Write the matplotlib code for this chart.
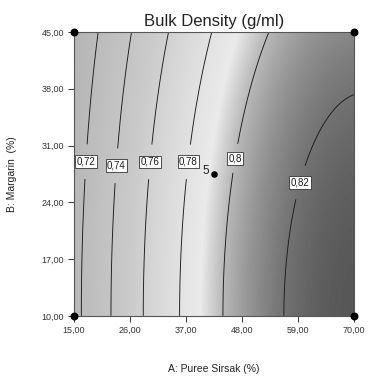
import numpy as np
import matplotlib
matplotlib.use("Agg")
import matplotlib.pyplot as plt
from matplotlib.colors import LinearSegmentedColormap

plt.rcParams['font.family'] = ['Liberation Sans', 'DejaVu Sans']

levels = [0.72, 0.74, 0.76, 0.78, 0.80, 0.82]

# where each contour crosses B = 10, 24, 31, 45 (A values)
rows_B = [10, 24, 31, 45]
cross_072 = [16.6, 17.0, 17.5, 19.9]
cross_074 = [22.3, 22.7, 23.4, 26.2]
cross_076 = [28.6, 29.3, 30.5, 33.5]
cross_078 = [35.5, 36.6, 38.4, 42.1]
cross_080 = [43.9, 46.2, 48.2, 52.3]
# 0.82 leaves through the right edge, so it gets its own points
pts_082_A = [55.1, 56.1, 58.0, 60.4, 61.4, 64.7, 70.0]
pts_082_B = [10.0, 17.0, 24.0, 27.1, 29.2, 33.3, 37.5]

# where the contour labels sit (A, B)
label_pos = [(17.6, 29.0), (23.3, 28.5), (29.7, 29.0), (37.3, 29.0),
             (46.9, 29.4), (59.2, 26.5)]

x_ticks = [15, 26, 37, 48, 59, 70]
y_ticks = [10, 17, 24, 31, 38, 45]

# design points
design_A = [15, 70, 15, 70]
design_B = [10, 10, 45, 45]
center_A, center_B, center_n = 42.5, 27.5, 5

# grey shading by response value
shade_vals = [0.705, 0.75, 0.79, 0.80, 0.81, 0.82, 0.835]
shade_grey = [0.71, 0.79, 0.92, 0.72, 0.58, 0.45, 0.28]


def basis(a, b):
    a = (np.asarray(a, float) - 42.5) / 27.5
    u = ((np.asarray(b, float) - 10) / 35) ** 2
    return np.stack([np.ones_like(a), a, a ** 2, a ** 3, u, u * a, u * a ** 2], axis=-1)


# fit a response surface through the contour crossings
pa, pb, pz = [], [], []
for lev, cr in zip(levels[:5], [cross_072, cross_074, cross_076, cross_078, cross_080]):
    pa += cr
    pb += rows_B
    pz += [lev] * len(cr)
pa += pts_082_A
pb += pts_082_B
pz += [0.82] * len(pts_082_A)
coef, *_ = np.linalg.lstsq(basis(pa, pb), np.array(pz), rcond=None)

A = np.linspace(15, 70, 300)
B = np.linspace(10, 45, 300)
AA, BB = np.meshgrid(A, B)
Z = basis(AA, BB) @ coef

lo, hi = shade_vals[0], shade_vals[-1]
cmap = LinearSegmentedColormap.from_list(
    'grey', [((v - lo) / (hi - lo), (g, g, g)) for v, g in zip(shade_vals, shade_grey)])

fig = plt.figure(figsize=(3.81, 3.76), dpi=100)
ax = fig.add_axes([0.194, 0.160, 0.735, 0.755])

ax.imshow(Z, extent=(15, 70, 10, 45), origin='lower', aspect='auto',
          cmap=cmap, vmin=lo, vmax=hi, interpolation='bilinear')
cs = ax.contour(AA, BB, Z, levels=levels, colors='#1a1a1a', linewidths=0.65)


def fmt(v):
    s = ('%.2f' % v).rstrip('0')
    return s.replace('.', ',')


labels = ax.clabel(cs, fmt=fmt, fontsize=7, manual=label_pos, inline=True, inline_spacing=8)
for t in labels:
    t.set_bbox(dict(facecolor='white', edgecolor='#333333', pad=1.0, linewidth=0.6))
    t.set_rotation(0)

ax.scatter(design_A, design_B, s=22, color='black', zorder=5, clip_on=False)
ax.scatter([center_A], [center_B], s=14, color='black', zorder=5)
ax.text(center_A - 1.0, center_B + 0.4, str(center_n), fontsize=8.5, ha='right',
        va='center', color='#222222')

ax.set_xlim(15, 70)
ax.set_ylim(10, 45)
ax.set_xticks(x_ticks)
ax.set_yticks(y_ticks)
ax.set_xticklabels([('%.2f' % v).replace('.', ',') for v in x_ticks])
ax.set_yticklabels([('%.2f' % v).replace('.', ',') for v in y_ticks])
ax.tick_params(direction='out', length=4, width=0.7, labelsize=6.5,
               colors='#333333', pad=3)
for s in ax.spines.values():
    s.set_color('#555555')
    s.set_linewidth(0.8)

ax.set_title('Bulk Density (g/ml)', fontsize=12, color='#222222', pad=4)
ax.set_xlabel('A: Puree Sirsak (%)', fontsize=7.5, color='#222222', labelpad=21)
ax.set_ylabel('B: Margarin  (%)', fontsize=7.5, color='#222222', labelpad=18)

fig.savefig('out.png', dpi=100)
